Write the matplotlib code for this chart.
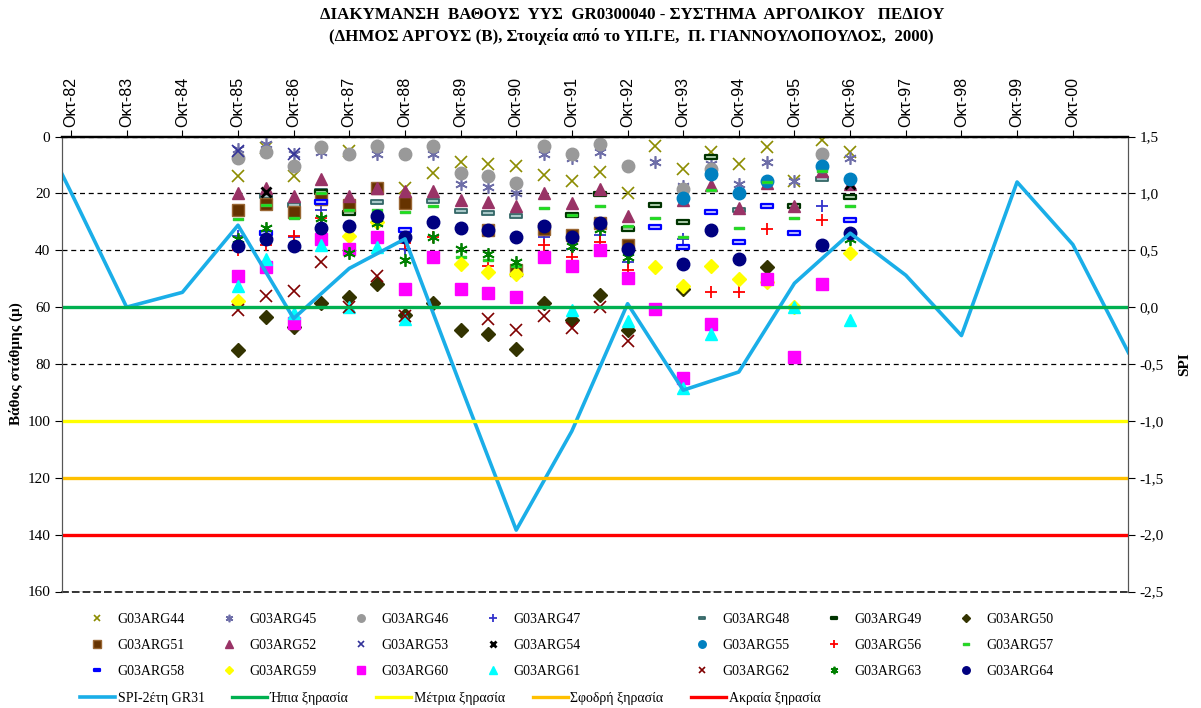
import matplotlib
matplotlib.use("Agg")
import matplotlib.pyplot as plt
import matplotlib.dates as mdates
from matplotlib.path import Path
from matplotlib.ticker import FuncFormatter
import numpy as np
import pandas as pd

plt.rcParams['font.family'] = ['Liberation Serif', 'DejaVu Serif']

_ = None

# measurement dates: every October and April, Oct-85 .. Oct-96
dates = pd.to_datetime(['1985-10-01', '1986-04-01', '1986-10-01', '1987-04-01', '1987-10-01',
                        '1988-04-01', '1988-10-01', '1989-04-01', '1989-10-01', '1990-04-01',
                        '1990-10-01', '1991-04-01', '1991-10-01', '1992-04-01', '1992-10-01',
                        '1993-04-01', '1993-10-01', '1994-04-01', '1994-10-01', '1995-04-01',
                        '1995-10-01', '1996-04-01', '1996-10-01'])

# depth to water (m) for each well
G44 = [14, 4, 14, _, 5, _, 18, 13, 9, 9.5, 10.5, 13.7, 15.5, 12.6, 19.7, 3.5, 11.4, 5.6, 9.5, 3.8, 15.5, 1.4, 5.6]
G45 = [4.3, 2.5, 6, 5.6, 6, 6, _, 6, 16.6, 17.8, 19.7, 6, 7.7, 5.3, _, 8.8, 17.3, 9.5, 16.6, 8.8, 15.8, _, 7.7]
G46 = [7.5, 5.3, 10.5, 3.8, 6, 3.2, 6.2, 3.2, 13, 14, 16.2, 3.5, 6.2, 2.8, 10.5, _, 18.3, 11.3, _, _, _, 6.3, _]
G47 = [35, _, 35.5, 25.7, _, _, 39.5, _, _, _, _, 35.4, 39.5, 34.8, 44.3, _, 36, _, _, _, _, 24.3, _]
G48 = [_, 21, 24, 19.3, 27, 23, _, 22.8, 26.3, 27, 28, _, _, _, _, _, _, _, 26, _, _, 15, _]
G49 = [_, _, _, 19.5, 27, _, _, _, _, _, _, _, 27.5, 20.3, 32.7, 24, 30.2, 7.3, _, _, 24.3, _, 21.1]
G50 = [75, 63.5, 67, 58.4, 56.3, 52, 62.6, 58.4, 68, 69.6, 74.6, 58.7, 64.4, 55.7, 68.2, _, 53.5, _, _, 46, _, _, _]
G51 = [25.7, 23.6, 26.5, 22, 24, 18, 23.5, _, _, 33, 47, 32.5, 34.8, 30.5, 38, _, _, _, _, _, _, _, _]
G52 = [20, 18, 21, 15, 20.8, 18, 19.3, 19.3, 22.5, 23, 24.3, 20, 23.5, 18.6, 27.8, _, 22.5, 16.9, 25, 16.5, 24.3, 12, 16.6]
G53 = [5, _, 6, _, _, _, _, _, _, _, _, _, _, _, _, _, _, _, _, _, _, _, _]
G54 = [_, 19.5, _, _, _, _, _, _, _, _, _, _, _, _, _, _, _, _, _, _, _, _, 16.6]
G55 = [_, _, _, _, _, _, _, _, _, _, _, _, _, _, _, _, 21.5, 13.3, 20, 15.8, _, 10.5, 14.8]
G56 = [40, 38, 35, 28.6, _, _, 37.6, 35.5, _, 45.4, _, 38.3, 42.5, 37.2, 47, _, _, 54.8, 54.8, 32.4, _, 29.3, _]
G57 = [29, 24, 28.5, 19.8, 26, 26, 26.6, 24.6, 42.5, 43.6, 45.7, 25, 27.5, 24.3, 31.3, 28.5, 35.4, 18.7, 32, 16, 28.5, 12, 24.6]
G58 = [_, 34, _, 23, _, _, 33, _, _, _, _, _, _, _, _, 31.7, 39, 26.4, 37, 24.6, 34, _, 29.3]
G59 = [58, _, _, _, 35, 30, _, _, 45, 47.8, 48.3, _, _, _, _, 46, 52.4, 45.4, 50, 51, 60, _, 40.8]
G60 = [49, 46, 65.5, 36, 39.5, 35.4, 53.8, 42.2, 53.5, 55, 56.3, 42.2, 45.7, 39.8, 49.6, 60.5, 85, 65.8, _, 50, 77.7, 51.7, _]
G61 = [52.5, 43, 62, 38.3, 60, 39, 64, _, _, _, _, _, 60.9, _, 64.8, _, 88.6, 69.3, _, _, 60, _, 64.4]
G62 = [61, 56, 54.5, 44.3, 59.8, 49, 63, _, _, 64, 68, 63, 67.5, 60, 72, _, _, _, _, _, _, _, _]
G63 = [36, 32, _, 28.6, 41, 30.5, 43.6, 35.5, 39.7, 41.3, 44.3, _, 38.6, 32.5, 42.2, _, _, _, _, _, _, _, 36]
G64 = [38.6, 36, 38.6, 32, 31.3, 28, 35.4, 30, 32.3, 33, 35.5, 31.3, 35.5, 30.5, 39.7, _, 45, 33, 43, _, _, 38.3, 34]

# 2-year SPI, station GR31 (October values)
spi_years = list(range(1981, 2002))
spi_values = [2.0, 1.01, 0.0, 0.13, 0.72, -0.1, 0.34, 0.6, -0.69, -1.96, -1.09, 0.03,
              -0.73, -0.57, 0.21, 0.65, 0.28, -0.25, 1.1, 0.55, -0.4]

# drought thresholds on the SPI axis
drought_names = ['Ήπια ξηρασία', 'Μέτρια ξηρασία', 'Σφοδρή ξηρασία', 'Ακραία ξηρασία']
drought_levels = [0.0, -1.0, -1.5, -2.0]
drought_colors = ['#00B050', '#FFFF00', '#FFC000', '#FF0000']

tick_years = list(range(1982, 2001))

dash = Path([(-1, -0.3), (1, -0.3), (1, 0.3), (-1, 0.3), (-1, -0.3)],
            [Path.MOVETO, Path.LINETO, Path.LINETO, Path.LINETO, Path.CLOSEPOLY])
asterisk = (6, 2, 0)

# name, values, marker, face, edge, size, edgewidth
styles = [
    ('G03ARG44', G44, 'x', '#8C8C00', '#8C8C00', 8, 1.2),
    ('G03ARG45', G45, asterisk, '#6E6EA8', '#6E6EA8', 9, 1.2),
    ('G03ARG46', G46, 'o', '#999999', '#999999', 9, 1),
    ('G03ARG47', G47, '+', '#3333CC', '#3333CC', 9, 1.3),
    ('G03ARG48', G48, dash, '#A8C8C8', '#336666', 8, 1.3),
    ('G03ARG49', G49, dash, '#B8D8B8', '#003300', 8, 1.6),
    ('G03ARG50', G50, 'D', '#333300', '#333300', 7, 1),
    ('G03ARG51', G51, 's', '#663300', '#996633', 9, 1),
    ('G03ARG52', G52, '^', '#993366', '#993366', 9, 1),
    ('G03ARG53', G53, 'x', '#333399', '#333399', 8, 1.2),
    ('G03ARG54', G54, 'x', '#000000', '#000000', 7, 2),
    ('G03ARG55', G55, 'o', '#0080C0', '#0080C0', 9, 1),
    ('G03ARG56', G56, '+', '#FF0000', '#FF0000', 9, 1.3),
    ('G03ARG57', G57, dash, '#00FF00', '#33CC33', 7, 1),
    ('G03ARG58', G58, dash, '#C8C8FF', '#0000FF', 8, 1.6),
    ('G03ARG59', G59, 'D', '#FFFF00', '#FFFF00', 7, 1),
    ('G03ARG60', G60, 's', '#FF00FF', '#FF00FF', 9, 1),
    ('G03ARG61', G61, '^', '#00FFFF', '#00FFFF', 9, 1),
    ('G03ARG62', G62, 'x', '#800000', '#800000', 8, 1.2),
    ('G03ARG63', G63, asterisk, '#008000', '#008000', 9, 1.3),
    ('G03ARG64', G64, 'o', '#000080', '#000080', 9, 1),
]

fig = plt.figure(figsize=(12.01, 7.08), dpi=100)
ax = fig.add_axes([62 / 1201, 116.5 / 708, 1066 / 1201, 455 / 708])
ax2 = ax.twinx()

handles = {}
for name, vals, mk, fc, ec, ms, mew in styles:
    y = np.array(vals, dtype=float)
    h, = ax.plot(dates, y, ls='none', marker=mk, markerfacecolor=fc, markeredgecolor=ec,
                 markersize=ms, markeredgewidth=mew, label=name)
    handles[name] = h

spi_dates = pd.to_datetime([f'{yr}-10-01' for yr in spi_years])
spi_line, = ax2.plot(spi_dates, spi_values, color='#1AAEE8', lw=2.6, label='SPI-2έτη GR31')
drought_lines = []
for nm, lv, col in zip(drought_names, drought_levels, drought_colors):
    drought_lines.append(ax2.axhline(lv, color=col, lw=2.4, label=nm))

x0 = pd.Timestamp('1982-08-03')
x1 = pd.Timestamp('2001-09-28')
ax.set_xlim(x0, x1)

ax.set_ylim(160, 0)
ax.set_yticks(range(0, 161, 20))
ax2.set_ylim(-2.5, 1.5)
ax2.set_yticks(np.arange(-2.5, 1.51, 0.5))
ax2.yaxis.set_major_formatter(FuncFormatter(lambda v, p: f'{v:.1f}'.replace('.', ',')))

ax.yaxis.grid(True, color='black', ls=(0, (4, 3)), lw=0.9)
ax.set_axisbelow(True)

ax.xaxis.tick_top()
ax.set_xticks(pd.to_datetime([f'{yr}-10-01' for yr in tick_years]))
ax.xaxis.set_major_formatter(FuncFormatter(lambda v, p: 'Οκτ-' + mdates.num2date(v).strftime('%y')))
ax.tick_params(axis='x', which='major', top=True, bottom=False, direction='out', length=5,
               labelsize=11.5, labelrotation=90, pad=2)
for lab in ax.get_xticklabels():
    lab.set_family(['Liberation Sans', 'DejaVu Sans'])
ax.tick_params(axis='y', direction='out', length=5, labelsize=11)
ax2.tick_params(axis='y', direction='out', length=5, labelsize=11)

for a in (ax, ax2):
    a.spines['top'].set_linewidth(1.6)
    a.spines['left'].set_color('#555555')
    a.spines['right'].set_color('#555555')
# bottom edge shows as a dashed gridline in the original
ax.spines['bottom'].set_linestyle((0, (4, 3)))
ax.spines['bottom'].set_linewidth(1.1)
ax2.spines['bottom'].set_visible(False)

ax.set_ylabel('Βάθος στάθμης (μ)', fontsize=11, fontweight='bold', labelpad=3)
ax2.set_ylabel('SPI', fontsize=11, fontweight='bold', labelpad=10)

fig.text(0.526, 0.979, 'ΔΙΑΚΥΜΑΝΣΗ  ΒΑΘΟΥΣ  ΥΥΣ  GR0300040 - ΣΥΣΤΗΜΑ  ΑΡΓΟΛΙΚΟΥ   ΠΕΔΙΟΥ',
         ha='center', va='center', fontsize=12.2, fontweight='bold')
fig.text(0.526, 0.948, '(ΔΗΜΟΣ ΑΡΓΟΥΣ (Β), Στοιχεία από το ΥΠ.ΓΕ,  Π. ΓΙΑΝΝΟΥΛΟΠΟΥΛΟΣ,  2000)',
         ha='center', va='center', fontsize=12.2, fontweight='bold')

# legends, laid out row by row like the original
order_a = ['G03ARG44', 'G03ARG51', 'G03ARG58', 'G03ARG45', 'G03ARG52', 'G03ARG59',
           'G03ARG46', 'G03ARG53', 'G03ARG60', 'G03ARG47', 'G03ARG54', 'G03ARG61']
order_b = ['G03ARG48', 'G03ARG55', 'G03ARG62', 'G03ARG49', 'G03ARG56', 'G03ARG63',
           'G03ARG50', 'G03ARG57', 'G03ARG64']
common = dict(frameon=False, fontsize=10, numpoints=1, markerscale=0.6, handlelength=1.0,
              handletextpad=0.98, columnspacing=2.68, labelspacing=0.92, borderpad=0,
              borderaxespad=0, loc='upper left')
leg_a = fig.legend([handles[n] for n in order_a], order_a, ncol=4,
                   bbox_to_anchor=(90 / 1201, 1 - 613 / 708), **common)
leg_b = fig.legend([handles[n] for n in order_b], order_b, ncol=3,
                   bbox_to_anchor=(695 / 1201, 1 - 613 / 708), **common)
line_handles = [spi_line] + drought_lines
fig.legend(line_handles, [h.get_label() for h in line_handles], ncol=5, frameon=False,
           fontsize=10, handlelength=2.5, handletextpad=0.2, columnspacing=2.0,
           borderpad=0, borderaxespad=0, loc='upper left',
           bbox_to_anchor=(80 / 1201, 1 - 692 / 708))

fig.savefig('out.png', dpi=100)
